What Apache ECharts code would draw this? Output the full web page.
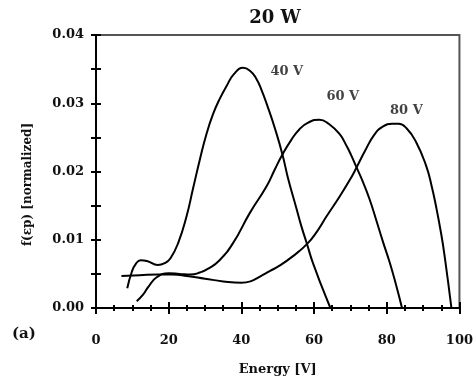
<!DOCTYPE html>
<html>
<head>
<meta charset="utf-8">
<script src="https://cdn.jsdelivr.net/npm/echarts@6/dist/echarts.min.js"></script>
<style>
  html, body { margin: 0; padding: 0; background: #fff; }
  #chart { width: 476px; height: 381px; }
</style>
</head>
<body>
<div id="chart"></div>
<script>
// curves: [energy V, f]
var v40 = [[8.6,0.0029],[9.8,0.0052],[11,0.0065],[12.3,0.0070],[14,0.0069],[17,0.0063],[19,0.0066],[20.5,0.0073],
  [22.6,0.0095],[24.9,0.0134],[26.7,0.0175],[28.6,0.0218],[30.4,0.0255],[32.2,0.0284],[34,0.0306],[35.9,0.0325],
  [38,0.0343],[40.5,0.0352],[42.5,0.0347],[44,0.0337],[45.5,0.0320],[47.3,0.0294],[49.3,0.0262],[51.3,0.0225],
  [52.8,0.0191],[55.1,0.0147],[56.5,0.0120],[58.1,0.0093],[59.3,0.0072],[60.6,0.0053],[62,0.0033],[64.5,0.0000]];
var v60 = [[11.2,0.0010],[13,0.0020],[14.4,0.0031],[16.7,0.0045],[20,0.0051],[23,0.0050],[26,0.0049],[28.6,0.0052],
  [31,0.0058],[34,0.0070],[37.7,0.0095],[42.3,0.0139],[46.9,0.0178],[49.2,0.0203],[51.3,0.0225],[53.7,0.0246],
  [56,0.0262],[58.5,0.0272],[61.5,0.0276],[64,0.0270],[67,0.0255],[69,0.0237],[70.2,0.0224],[71.6,0.0207],
  [73.5,0.0184],[75.3,0.0159],[77.1,0.0129],[78.9,0.0098],[80.8,0.0067],[82.5,0.0035],[84.2,0.0000]];
var v80 = [[7,0.0047],[12,0.0048],[17,0.0049],[21,0.0049],[25,0.0047],[30,0.0043],[35,0.0039],[40,0.0037],
  [42.5,0.0039],[45.1,0.0046],[47.8,0.0054],[50.5,0.0062],[54.2,0.0076],[58.1,0.0094],[60.8,0.0112],[63.4,0.0134],
  [67,0.0163],[70.2,0.0191],[71.6,0.0205],[74,0.0230],[76.6,0.0254],[79,0.0266],[81.5,0.0270],[83.3,0.0270],
  [85.5,0.0263],[88,0.0244],[90.8,0.0209],[92.3,0.0180],[93.6,0.0148],[95,0.0108],[95.9,0.0077],[97.8,0.0000]];
var curveLabels = [[52.5,0.0347,'40 V'],[67.9,0.0309,'60 V'],[85.4,0.0289,'80 V']];

var font = 'DejaVu Serif';
var ink = '#111';

var chart = echarts.init(document.getElementById('chart'));

function line(name, data) {
  return {
    name: name, type: 'line', data: data, smooth: 0.5,
    symbol: 'none', lineStyle: {color: '#000', width: 2}
  };
}

var xBase = {
  type: 'value', min: 0, max: 100, interval: 20, position: 'bottom',
  axisLine: {show: true, onZero: false, lineStyle: {color: '#000', width: 2}},
  splitLine: {show: false},
  axisTick: {length: 6, lineStyle: {color: '#000', width: 2}},
  minorTick: {show: true, splitNumber: 4, length: 3, lineStyle: {color: '#000', width: 2}}
};
var yBase = {
  type: 'value', min: 0, max: 0.04, interval: 0.01, position: 'left',
  axisLine: {show: true, onZero: false, lineStyle: {color: '#000', width: 2}},
  splitLine: {show: false},
  axisTick: {length: 5, lineStyle: {color: '#000', width: 2}},
  minorTick: {show: true, splitNumber: 2, length: 5, lineStyle: {color: '#000', width: 2}}
};

chart.setOption({
  animation: false,
  backgroundColor: '#fff',
  title: {
    text: '20 W', left: 270, top: 4, textAlign: 'center',
    textStyle: {fontFamily: font, fontWeight: 'bold', fontSize: 18, color: ink}
  },
  grid: {left: 96, right: 16, top: 35, bottom: 68, show: true, borderColor: '#555', borderWidth: 2},
  xAxis: [
    Object.assign({}, xBase, {
      name: 'Energy [V]', nameLocation: 'middle', nameGap: 55,
      nameTextStyle: {fontFamily: font, fontWeight: 'bold', fontSize: 13, color: ink},
      axisLabel: {margin: 26, fontFamily: font, fontWeight: 'bold', fontSize: 13, color: ink}
    }),
    Object.assign({}, xBase, {
      axisLabel: {show: false},
      axisTick: Object.assign({}, xBase.axisTick, {inside: true}),
      minorTick: Object.assign({}, xBase.minorTick, {inside: true})
    })
  ],
  yAxis: [
    Object.assign({}, yBase, {
      name: 'f(εp) [normalized]', nameLocation: 'middle', nameGap: 62,
      nameTextStyle: {fontFamily: font, fontWeight: 'bold', fontSize: 12, color: ink, padding: [0, 26, 0, 0]},
      axisLabel: {
        margin: 12, fontFamily: font, fontWeight: 'bold', fontSize: 13, color: ink,
        formatter: function (v) { return v.toFixed(2); }
      }
    }),
    Object.assign({}, yBase, {
      axisLabel: {show: false},
      axisTick: Object.assign({}, yBase.axisTick, {inside: true}),
      minorTick: Object.assign({}, yBase.minorTick, {inside: true})
    })
  ],
  graphic: [{
    type: 'text', left: 12, top: 327,
    style: {text: '(a)', font: 'bold 15px "DejaVu Serif"', fill: ink}
  }],
  series: [
    line('40 V', v40),
    line('60 V', v60),
    line('80 V', v80),
    {
      type: 'scatter', data: curveLabels, symbolSize: 0,
      label: {
        show: true, position: 'inside', formatter: function (p) { return p.value[2]; },
        fontFamily: font, fontWeight: 'bold', fontSize: 13, color: ink
      }
    }
  ]
});
</script>
</body>
</html>
